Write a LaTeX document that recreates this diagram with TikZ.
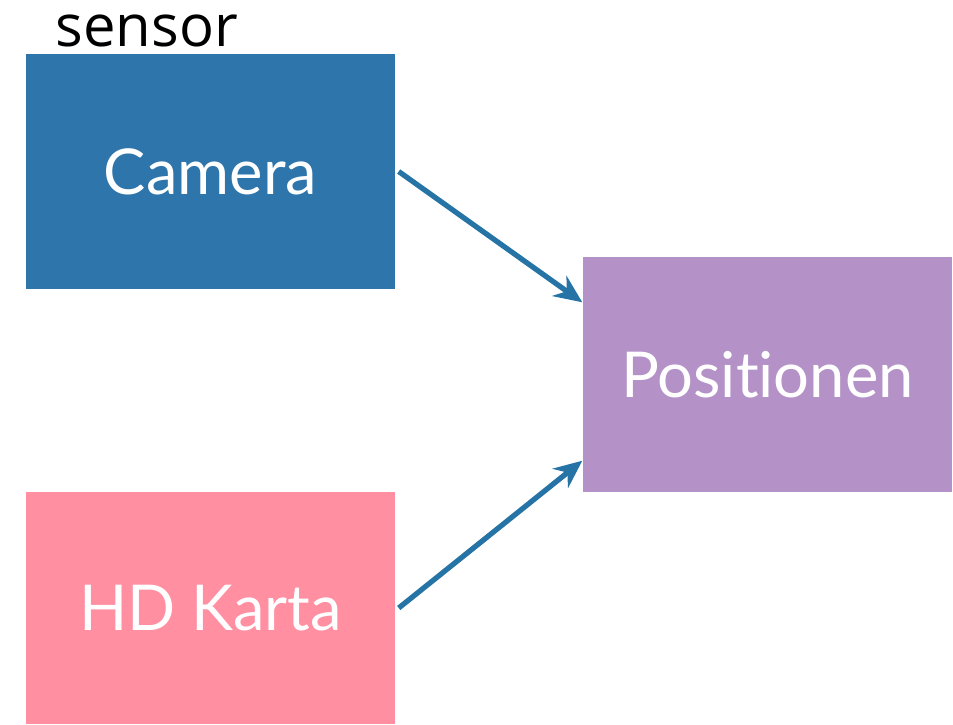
\documentclass[tikz,border=0pt]{standalone}
\usepackage{fontspec}
\setmainfont[Ligatures=NoCommon]{Lato}
\newfontfamily\labelfont{Open Sans}
\usetikzlibrary{arrows.meta}
\definecolor{cameablue}{RGB}{46, 117, 171}
\definecolor{linkblue}{RGB}{38, 116, 166}
\definecolor{kartapink}{RGB}{255, 143, 161}
\definecolor{poslilac}{RGB}{180, 146, 199}
\tikzset{
  box/.style={minimum width=3.69cm, minimum height=2.35cm, inner sep=0pt,
              text=white, font=\fontsize{18}{21}\selectfont},
  link/.style={draw=linkblue, line width=1.5pt, -{Stealth[length=8pt, width=7pt]}}
}

\begin{document}
\begin{tikzpicture}
            \useasboundingbox (0.00, 0.00) rectangle (9.53, 7.24);
            \node[box, fill=cameablue]                     (camera) at (2.105, 5.525) {Camera};
            \node[box, fill=kartapink, minimum height=2.32cm] (karta)  at (2.105, 1.160) {HD Karta};
            \node[box, fill=poslilac]                      (pos)    at (7.675, 3.495) {Positionen};
            \node[anchor=base west, inner sep=0pt, font=\labelfont\fontsize{16.5}{20}\selectfont]
                 (sensor) at (0.55, 6.77) {sensor};
            \draw[link] ([xshift=0.03cm]camera.east) -- ([yshift=-0.46cm]pos.north west);
            \draw[link] ([xshift=0.03cm]karta.east)  -- ([yshift=0.32cm]pos.south west);
        \end{tikzpicture}
\end{document}
